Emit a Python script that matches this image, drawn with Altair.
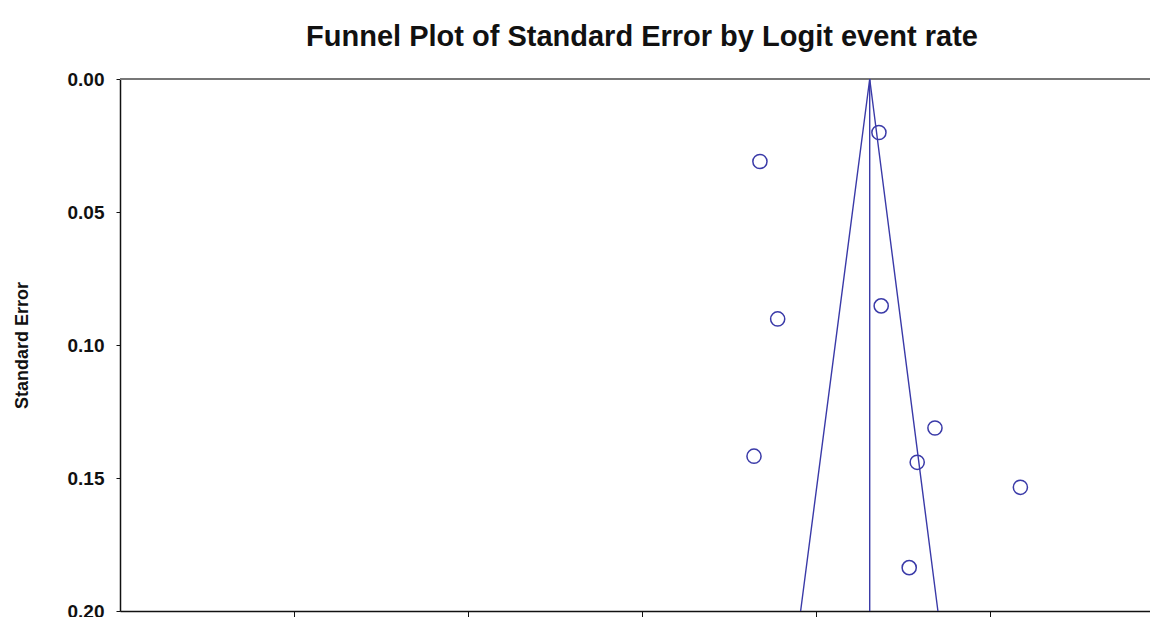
import altair as alt
import pandas as pd

# Study points (logit event rate, standard error)
logit_rate = [1.362, 0.678, 1.375, 0.780, 1.684, 0.644, 1.582, 2.175, 1.536]
std_error = [0.0201, 0.0310, 0.0853, 0.0902, 0.1312, 0.1418, 0.1441, 0.1535, 0.1837]

# Funnel (pseudo 95% limits) and combined effect line
funnel_x = [0.912, 1.309, 1.701]
funnel_se = [0.200, 0.000, 0.200]
center_x = [1.309, 1.309]
center_se = [0.000, 0.200]

x_ticks = [-2, -1, 0, 1, 2]
y_ticks = [0.00, 0.05, 0.10, 0.15, 0.20]

BLUE = "#3a3aa8"
FONT = "Liberation Sans"

pts = pd.DataFrame({"x": logit_rate, "se": std_error})
funnel = pd.DataFrame({"x": funnel_x, "se": funnel_se, "o": [0, 1, 2]})
center = pd.DataFrame({"x": center_x, "se": center_se})

xscale = alt.Scale(domain=[-3, 2.92], nice=False, zero=False)
yscale = alt.Scale(domain=[0, 0.2], reverse=True, nice=False, zero=False)

xenc = alt.X("x:Q", scale=xscale,
             axis=alt.Axis(values=x_ticks, labels=False, title=None, grid=False,
                           domainColor="#111111", domainWidth=1.5, tickColor="#111111",
                           tickSize=6, tickOffset=0))
yenc = alt.Y("se:Q", scale=yscale,
             axis=alt.Axis(values=y_ticks, format=".2f", title="Standard Error", grid=False,
                           domainColor="#111111", domainWidth=1.5, tickColor="#111111",
                           tickSize=4, labelFont=FONT, labelFontSize=19, labelFontWeight="bold",
                           labelColor="#111111", labelPadding=12,
                           titleFont=FONT, titleFontSize=18, titleFontWeight="bold",
                           titleColor="#111111", titlePadding=36))

funnel_layer = alt.Chart(funnel).mark_line(color=BLUE, strokeWidth=1.4).encode(
    x=xenc, y=yenc, order="o:Q")
center_layer = alt.Chart(center).mark_line(color=BLUE, strokeWidth=1.4).encode(
    x="x:Q", y="se:Q")
top_line = alt.Chart(pd.DataFrame({"v": [0]})).mark_rule(color="#777777", strokeWidth=2).encode(
    y=alt.Y("v:Q", scale=yscale))
point_layer = alt.Chart(pts).mark_point(shape="circle", filled=False, color=BLUE,
                                        size=200, strokeWidth=1.5, opacity=1).encode(
    x="x:Q", y="se:Q")

chart = alt.layer(top_line, funnel_layer, center_layer, point_layer).properties(
    width=1030, height=532,
    title=alt.TitleParams("Funnel Plot of Standard Error by Logit event rate",
                          font=FONT, fontSize=29, fontWeight="bold", color="#111111",
                          offset=18, anchor="middle", dx=7),
    autosize=alt.AutoSizeParams(type="none"),
    padding={"left": 112, "top": 71, "right": 0, "bottom": 6},
).configure_view(stroke=None).configure(background="white")

chart.save("out.html", embed_options={"renderer": "svg", "actions": False})
